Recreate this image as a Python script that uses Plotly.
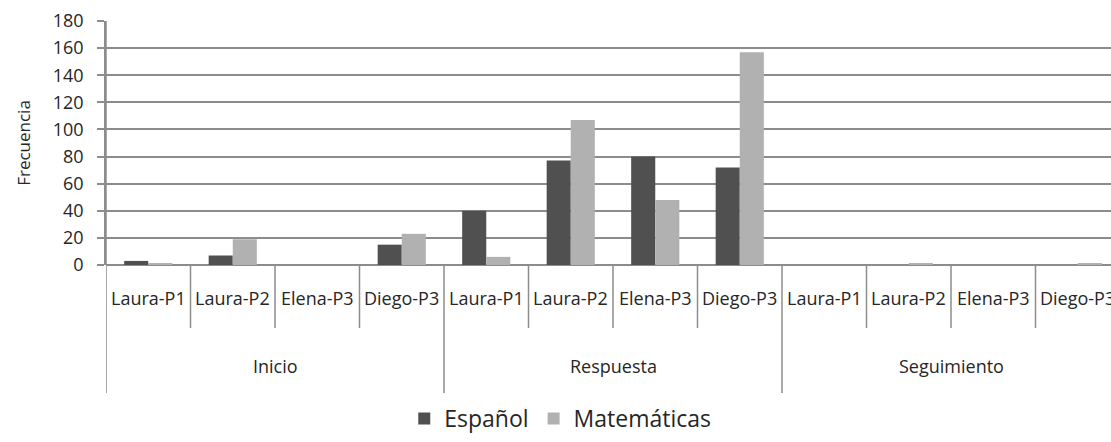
import plotly.graph_objects as go

# Frecuencias por fase y participante
fases = ["Inicio", "Respuesta", "Seguimiento"]
participantes = ["Laura-P1", "Laura-P2", "Elena-P3", "Diego-P3"]
espanol = [3, 7, 0, 15, 40, 77, 80, 72, 0, 0, 0, 0]
matematicas = [1, 19, 0, 23, 6, 107, 48, 157, 0, 1, 0, 1]
y_ticks = [0, 20, 40, 60, 80, 100, 120, 140, 160, 180]

FONT = "Open Sans"
GRID = "#8c8c8c"
TXT = "#262626"

n_cat = len(fases) * len(participantes)
xs = list(range(n_cat))

fig = go.Figure()
fig.add_trace(go.Bar(x=xs, y=espanol, name="Español", marker=dict(color="#505050", line_width=0)))
fig.add_trace(go.Bar(x=xs, y=matematicas, name="Matemáticas", marker=dict(color="#b1b1b1", line_width=0)))

# Plot area height in pixels, used to express offsets below the axis
PLOT_H = 244
def below(px):
    return -px / PLOT_H

shapes = []
annotations = []
# Short dividers between individual categories
for i in range(n_cat):
    if (i + 1) % len(participantes) != 0:
        shapes.append(dict(type="line", xref="x", yref="paper", x0=i + 0.5, x1=i + 0.5,
                           y0=0, y1=below(63), line=dict(color=GRID, width=1.5)))
# Long dividers between phases (including the left edge)
for g in range(len(fases) + 1):
    xg = g * len(participantes) - 0.5
    shapes.append(dict(type="line", xref="x", yref="paper", x0=xg, x1=xg,
                       y0=0 if g else 1, y1=below(128), line=dict(color=GRID, width=1.5)))

# Category labels
for i in range(n_cat):
    annotations.append(dict(x=i, y=below(33), xref="x", yref="paper", showarrow=False,
                            text=participantes[i % len(participantes)],
                            font=dict(family=FONT, size=18, color=TXT), yanchor="middle"))
# Phase labels
for g, fase in enumerate(fases):
    xc = g * len(participantes) + (len(participantes) - 1) / 2
    annotations.append(dict(x=xc, y=below(101), xref="x", yref="paper", showarrow=False,
                            text=fase, font=dict(family=FONT, size=18, color=TXT), yanchor="middle"))

fig.update_layout(
    width=1111, height=442,
    margin=dict(l=106, r=0, t=21, b=177, autoexpand=False),
    plot_bgcolor="white", paper_bgcolor="white",
    barmode="group", bargap=0.43, bargroupgap=0,
    showlegend=True,
    legend=dict(orientation="h", x=0.452, xanchor="center", y=below(175), yanchor="bottom",
                font=dict(family=FONT, size=23, color=TXT), itemwidth=30,
                traceorder="normal"),
    shapes=shapes, annotations=annotations,
    font=dict(family=FONT, color=TXT),
)
fig.update_xaxes(range=[-0.5, -0.5 + 1005 / 84.5], showticklabels=False, showgrid=False,
                 zeroline=False, showline=False, ticks="")
fig.update_yaxes(range=[0, 180], tickvals=y_ticks, showgrid=True, gridcolor=GRID, gridwidth=1.5,
                 zeroline=True, zerolinecolor=GRID, zerolinewidth=1.5,
                 showline=True, linecolor=GRID, linewidth=1.5,
                 ticks="outside", ticklen=7, tickcolor=GRID, tickwidth=1.5,
                 ticklabelstandoff=10,
                 tickfont=dict(family=FONT, size=18, color=TXT),
                 title=dict(text="Frecuencia", font=dict(family=FONT, size=17, color=TXT), standoff=18))

fig.write_html("out.html")
